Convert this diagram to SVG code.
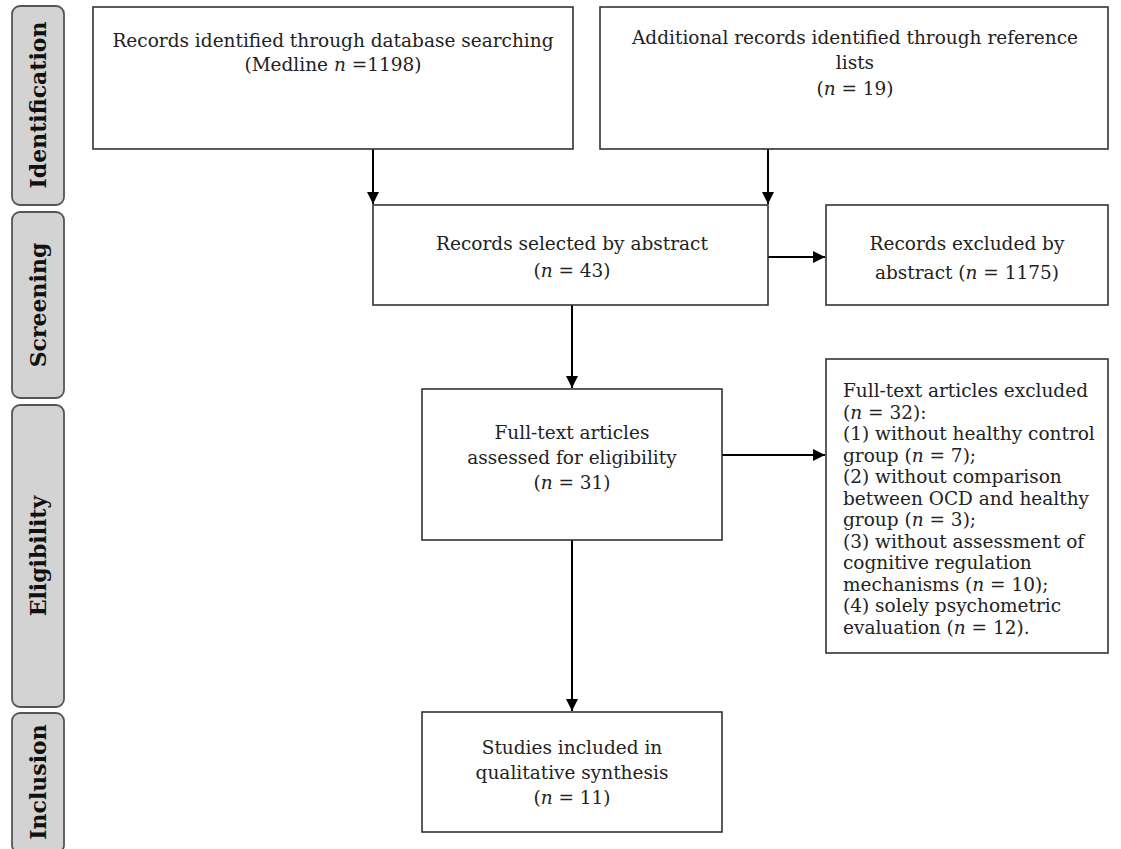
<svg xmlns="http://www.w3.org/2000/svg" width="1121" height="849" viewBox="0 0 1121 849">
<defs>
<marker id="ah" markerWidth="14" markerHeight="14" refX="12" refY="6" orient="auto" markerUnits="userSpaceOnUse">
<path d="M0,0 L12,6 L0,12 Z" fill="#000"/>
</marker>
<style>
.tab{fill:#d3d3d3;stroke:#555;stroke-width:1.8}
.tabt{font-family:"DejaVu Serif",serif;font-weight:bold;font-size:22px;fill:#111;text-anchor:middle}
.box{fill:#fff;stroke:#333;stroke-width:1.6}
.t{font-family:"DejaVu Serif",serif;font-size:18.5px;fill:#222;text-anchor:middle}
.tl{font-family:"DejaVu Serif",serif;font-size:18.5px;fill:#222}
.c{stroke:#000;stroke-width:2;fill:none}
</style>
</defs>
<rect width="1121" height="849" fill="#fff"/>
<g id="tab-identification"><rect class="tab" x="12" y="6" width="52" height="199" rx="8"/><text class="tabt" transform="translate(46,105) rotate(-90)">Identification</text></g>
<g id="tab-screening"><rect class="tab" x="12" y="212" width="52" height="186" rx="8"/><text class="tabt" transform="translate(46,305) rotate(-90)">Screening</text></g>
<g id="tab-eligibility"><rect class="tab" x="12" y="405" width="52" height="302" rx="8"/><text class="tabt" transform="translate(46,556) rotate(-90)">Eligibility</text></g>
<g id="tab-inclusion"><rect class="tab" x="12" y="713" width="52" height="140" rx="8"/><text class="tabt" transform="translate(46,782) rotate(-90)">Inclusion</text></g>

<g id="connectors">
<line class="c" x1="373" y1="149" x2="373" y2="204" marker-end="url(#ah)"/>
<line class="c" x1="768" y1="149" x2="768" y2="204" marker-end="url(#ah)"/>
<line class="c" x1="768" y1="257" x2="825" y2="257" marker-end="url(#ah)"/>
<line class="c" x1="572" y1="305" x2="572" y2="388" marker-end="url(#ah)"/>
<line class="c" x1="722" y1="455" x2="825" y2="455" marker-end="url(#ah)"/>
<line class="c" x1="572" y1="540" x2="572" y2="711" marker-end="url(#ah)"/>
</g>

<g id="box-database"><rect class="box" x="93" y="7" width="480" height="142"/>
<text class="t" x="333" y="47">Records identified through database searching</text>
<text class="t" x="333" y="71">(Medline <tspan font-style="italic">n</tspan> =1198)</text></g>

<g id="box-additional"><rect class="box" x="600" y="7" width="508" height="142"/>
<text class="t" x="855" y="44">Additional records identified through reference</text>
<text class="t" x="855" y="69">lists</text>
<text class="t" x="855" y="95">(<tspan font-style="italic">n</tspan> = 19)</text></g>

<g id="box-selected"><rect class="box" x="373" y="205" width="395" height="100"/>
<text class="t" x="572" y="250">Records selected by abstract</text>
<text class="t" x="572" y="277">(<tspan font-style="italic">n</tspan> = 43)</text></g>

<g id="box-excluded-abstract"><rect class="box" x="826" y="205" width="282" height="100"/>
<text class="t" x="967" y="250">Records excluded by</text>
<text class="t" x="967" y="279">abstract (<tspan font-style="italic">n</tspan> = 1175)</text></g>

<g id="box-fulltext"><rect class="box" x="422" y="389" width="300" height="151"/>
<text class="t" x="572" y="439">Full-text articles</text>
<text class="t" x="572" y="464">assessed for eligibility</text>
<text class="t" x="572" y="489">(<tspan font-style="italic">n</tspan> = 31)</text></g>

<g id="box-fulltext-excluded"><rect class="box" x="826" y="359" width="282" height="294"/>
<text class="tl" x="843" y="397">Full-text articles excluded</text>
<text class="tl" x="843" y="418.5">(<tspan font-style="italic">n</tspan> = 32):</text>
<text class="tl" x="843" y="440">(1) without healthy control</text>
<text class="tl" x="843" y="461.5">group (<tspan font-style="italic">n</tspan> = 7);</text>
<text class="tl" x="843" y="483">(2) without comparison</text>
<text class="tl" x="843" y="504.5">between OCD and healthy</text>
<text class="tl" x="843" y="526">group (<tspan font-style="italic">n</tspan> = 3);</text>
<text class="tl" x="843" y="547.5">(3) without assessment of</text>
<text class="tl" x="843" y="569">cognitive regulation</text>
<text class="tl" x="843" y="590.5">mechanisms (<tspan font-style="italic">n</tspan> = 10);</text>
<text class="tl" x="843" y="612">(4) solely psychometric</text>
<text class="tl" x="843" y="633.5">evaluation (<tspan font-style="italic">n</tspan> = 12).</text></g>

<g id="box-included"><rect class="box" x="422" y="712" width="300" height="120"/>
<text class="t" x="572" y="754">Studies included in</text>
<text class="t" x="572" y="779">qualitative synthesis</text>
<text class="t" x="572" y="804">(<tspan font-style="italic">n</tspan> = 11)</text></g>
</svg>
